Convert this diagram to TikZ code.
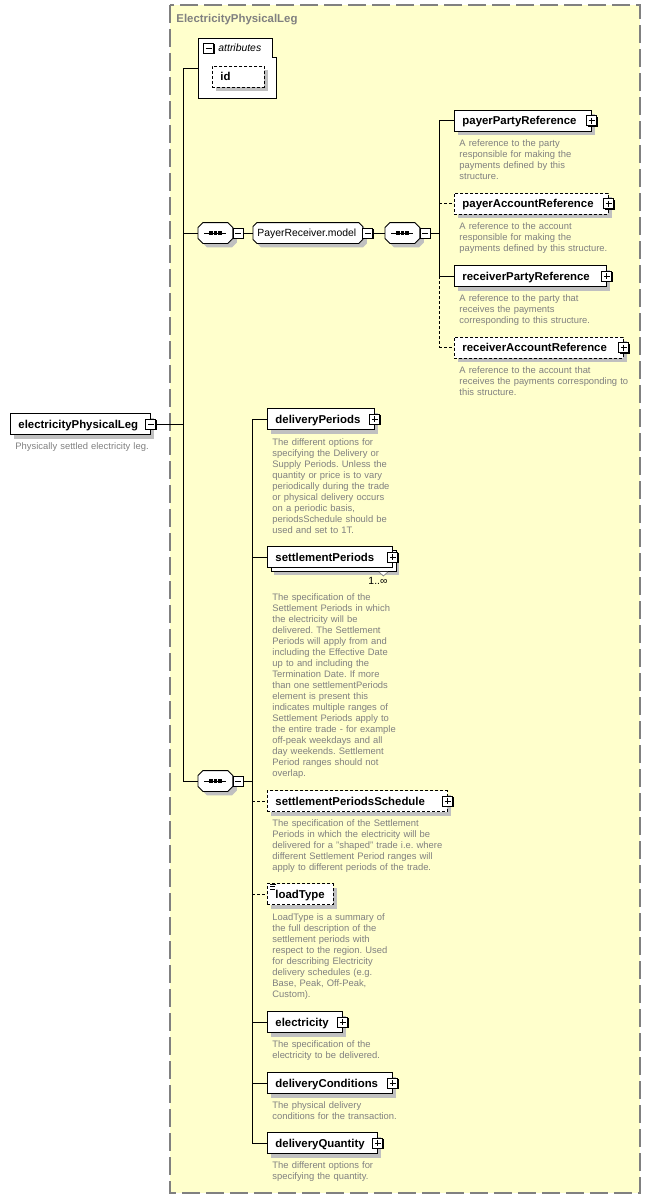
\documentclass[tikz,border=0pt]{standalone}
\usepackage{fontspec}
\setmainfont{Liberation Sans}
\usetikzlibrary{shadows}
\definecolor{groupfill}{RGB}{255,255,204}
\definecolor{docgray}{RGB}{128,128,128}
\definecolor{shadowgray}{RGB}{192,192,192}
\newcommand\namefont{\fontsize{11.4}{13}\bfseries\selectfont}
\newcommand\docfont{\fontsize{9.4}{11}\selectfont\frenchspacing}
\newcommand\smallfont{\fontsize{10.4}{12}\selectfont}
\tikzset{
  boxshadow/.style={drop shadow={fill=shadowgray, opacity=1, shadow xshift=4pt, shadow yshift=-4pt}},
  elembase/.style={draw, fill=white, anchor=west, font=\namefont, align=left,
    inner xsep=8pt, inner ysep=0pt, minimum height=21pt, text height=8.5pt, text depth=0.5pt},
  elem/.style={elembase, boxshadow},
  optelem/.style={elem, dash pattern=on 3pt off 2pt},
  multielem/.style={elembase,
    drop shadow={fill=shadowgray, opacity=1, shadow xshift=7pt, shadow yshift=-7pt},
    general shadow={draw=black, fill=white, shadow xshift=3.5pt, shadow yshift=-3.5pt}},
  doc/.style={anchor=base west, font=\docfont, text=docgray, align=left, text width=200pt, inner sep=0pt},
  seqnode/.style={anchor=west, minimum width=34pt, minimum height=20pt, inner sep=0pt},
  pmbox/.style={draw, fill=white, minimum size=10pt, inner sep=0pt,
    general shadow={fill=black, shadow xshift=1pt, shadow yshift=-1pt}},
  plusbox/.style={pmbox, path picture={
    \draw ([xshift=2pt]path picture bounding box.west) -- ([xshift=-2pt]path picture bounding box.east)
          ([yshift=-2pt]path picture bounding box.north) -- ([yshift=2pt]path picture bounding box.south);}},
  minusbox/.style={pmbox, path picture={
    \draw ([xshift=2pt]path picture bounding box.west) -- ([xshift=-2pt]path picture bounding box.east);}},
  optline/.style={dash pattern=on 3pt off 2pt},
}
% chamfered outline round a node
\newcommand\octo[2]{%
  \draw[fill=white, boxshadow] ([xshift=#2]#1.north west) -- ([xshift=-#2]#1.north east)
    -- ([yshift=-#2]#1.north east) -- ([yshift=#2]#1.south east) -- ([xshift=-#2]#1.south east)
    -- ([xshift=#2]#1.south west) -- ([yshift=#2]#1.south west) -- ([yshift=-#2]#1.north west) -- cycle;}
% sequence mark inside a compositor
\newcommand\seqmark[1]{%
  \draw ([xshift=-11pt]#1.center) -- ([xshift=11pt]#1.center);
  \foreach \dx in {-4.5,0,4.5}
    \fill ([xshift=\dx pt]#1.center) ++(-1.75,-1.75) rectangle ++(3.5,3.5);}
\begin{document}
\begin{tikzpicture}[x=1pt, y=-1pt, line width=0.9pt]
\useasboundingbox (0,0) rectangle (651,1199);

% Complex type group
\draw[draw=docgray, fill=groupfill, line width=1.3pt, dash pattern=on 18pt off 6pt] (170,5) rectangle (640,1193);
\node[anchor=base west, font=\namefont, text=docgray, inner sep=0pt] (title) at (176,23) {ElectricityPhysicalLeg};
\coordinate (busA) at (183,0);
\coordinate (busB) at (439,0);
\coordinate (busC) at (252,0);

% Root element
\node[elem, text width=124pt] (epl) at (10,424) {electricityPhysicalLeg};
\node[minusbox] (epl-m) at (epl.east) {};
\node[doc] (epl-doc) at ([xshift=5pt,yshift=-15pt]epl.south west) {Physically settled electricity leg.};

% Attributes
\node[minimum width=78pt, minimum height=60pt, anchor=north west, inner sep=0pt] (attr) at (198,38) {};
\draw[fill=white] (attr.north west) -- ([xshift=-4pt]attr.north east) -- ([xshift=-4pt,yshift=-19pt]attr.north east)
  -- ([yshift=-19pt]attr.north east) -- (attr.south east) -- (attr.south west) -- cycle;
\node[minusbox] (attr-m) at (208.5,48.5) {};
\node[anchor=base west, font=\smallfont\itshape, inner sep=0pt] (attr-label) at (218,52) {attributes};
\node[optelem, text width=36pt] (id) at (212,76.5) {id};

% PayerReceiver.model
\node[seqnode] (seqA) at (198,233) {};
\octo{seqA}{5pt}
\seqmark{seqA}
\node[minusbox] (seqA-m) at ([xshift=5.5pt]seqA.east) {};
\node[seqnode, minimum width=109pt] (prm) at (253,233) {};
\octo{prm}{4pt}
\node[anchor=base west, font=\smallfont, inner sep=0pt] (prm-label) at ([xshift=4pt,yshift=-3.7pt]prm.west) {PayerReceiver.model};
\node[minusbox] (prm-m) at ([xshift=5pt]prm.east) {};
\node[seqnode] (seqB) at (385,233) {};
\octo{seqB}{5pt}
\seqmark{seqB}
\node[minusbox] (seqB-m) at ([xshift=5.5pt]seqB.east) {};

\node[elem, text width=121pt] (ppr) at (454,120.5) {payerPartyReference};
\node[plusbox] (ppr-p) at (ppr.east) {};
\node[doc] (ppr-doc) at ([xshift=5pt,yshift=-15pt]ppr.south west) {A reference to the party\\responsible for making the\\payments defined by this\\structure.};
\node[optelem, text width=138pt] (par) at (454,203.5) {payerAccountReference};
\node[plusbox] (par-p) at (par.east) {};
\node[doc] (par-doc) at ([xshift=5pt,yshift=-15pt]par.south west) {A reference to the account\\responsible for making the\\payments defined by this structure.};
\node[elem, text width=136pt] (rpr) at (454,276) {receiverPartyReference};
\node[plusbox] (rpr-p) at (rpr.east) {};
\node[doc] (rpr-doc) at ([xshift=5pt,yshift=-15pt]rpr.south west) {A reference to the party that\\receives the payments\\corresponding to this structure.};
\node[optelem, text width=153pt] (rar) at (454,347.5) {receiverAccountReference};
\node[plusbox] (rar-p) at (rar.east) {};
\node[doc] (rar-doc) at ([xshift=5pt,yshift=-15pt]rar.south west) {A reference to the account that\\receives the payments corresponding to\\this structure.};

% Delivery sequence
\node[seqnode] (seqC) at (198,781) {};
\octo{seqC}{5pt}
\seqmark{seqC}
\node[minusbox] (seqC-m) at ([xshift=5.5pt]seqC.east) {};

\node[elem, text width=91pt] (dp) at (267,419) {deliveryPeriods};
\node[plusbox] (dp-p) at (dp.east) {};
\node[doc] (dp-doc) at ([xshift=5pt,yshift=-16pt]dp.south west) {The different options for\\specifying the Delivery or\\Supply Periods. Unless the\\quantity or price is to vary\\periodically during the trade\\or physical delivery occurs\\on a periodic basis,\\periodsSchedule should be\\used and set to 1T.};
\node[multielem, text width=109pt] (sp) at (267,557) {settlementPeriods};
\node[plusbox] (sp-p) at (sp.east) {};
\draw[docgray, line width=0.7pt, fill=white] ([xshift=-14pt,yshift=-4pt]sp.south east) -- ++(4.5,4) -- ++(4.5,-4);
\node[anchor=base east, font=\smallfont, inner sep=0pt] (sp-mult) at ([xshift=-5pt,yshift=-17pt]sp.south east) {1..∞};
\node[doc] (sp-doc) at ([xshift=5pt,yshift=-33pt]sp.south west) {The specification of the\\Settlement Periods in which\\the electricity will be\\delivered. The Settlement\\Periods will apply from and\\including the Effective Date\\up to and including the\\Termination Date. If more\\than one settlementPeriods\\element is present this\\indicates multiple ranges of\\Settlement Periods apply to\\the entire trade - for example\\off-peak weekdays and all\\day weekends. Settlement\\Period ranges should not\\overlap.};
\node[optelem, text width=164pt] (sps) at (267,801) {settlementPeriodsSchedule};
\node[plusbox] (sps-p) at (sps.east) {};
\node[doc] (sps-doc) at ([xshift=5pt,yshift=-15pt]sps.south west) {The specification of the Settlement\\Periods in which the electricity will be\\delivered for a "shaped" trade i.e. where\\different Settlement Period ranges will\\apply to different periods of the trade.};
\node[optelem, text width=50pt] (lt) at (267,894) {loadType};
\draw[line width=0.6pt] ([xshift=3pt,yshift=-1pt]lt.north west) -- ++(6,0)
  ([xshift=3pt,yshift=-3.5pt]lt.north west) -- ++(5,0) ([xshift=3pt,yshift=-6pt]lt.north west) -- ++(5,0);
\node[doc] (lt-doc) at ([xshift=5pt,yshift=-16pt]lt.south west) {LoadType is a summary of\\the full description of the\\settlement periods with\\respect to the region. Used\\for describing Electricity\\delivery schedules (e.g.\\Base, Peak, Off-Peak,\\Custom).};
\node[elem, text width=59pt] (el) at (267,1022) {electricity};
\node[plusbox] (el-p) at (el.east) {};
\node[doc] (el-doc) at ([xshift=5pt,yshift=-15pt]el.south west) {The specification of the\\electricity to be delivered.};
\node[elem, text width=109pt] (dc) at (267,1083) {deliveryConditions};
\node[plusbox] (dc-p) at (dc.east) {};
\node[doc] (dc-doc) at ([xshift=5pt,yshift=-15pt]dc.south west) {The physical delivery\\conditions for the transaction.};
\node[elem, text width=94pt] (dq) at (267,1143) {deliveryQuantity};
\node[plusbox] (dq-p) at (dq.east) {};
\node[doc] (dq-doc) at ([xshift=5pt,yshift=-15pt]dq.south west) {The different options for\\specifying the quantity.};

% Connectors
\draw (epl-m.east) -- (busA |- epl-m.east);
\draw (busA |- attr.west) -- (busA |- seqC.west);
\draw (busA |- attr.west) -- (attr.west);
\draw (busA |- seqA.west) -- (seqA.west);
\draw (busA |- seqC.west) -- (seqC.west);
\draw (seqA-m.east) -- (prm.west);
\draw (prm-m.east) -- (seqB.west);
\draw (seqB-m.east) -- (busB |- seqB-m.east);
\draw (busB |- ppr.west) -- (busB |- rpr.west);
\draw[optline] (busB |- rpr.west) -- (busB |- rar.west);
\draw (busB |- ppr.west) -- (ppr.west);
\draw[optline] (busB |- par.west) -- (par.west);
\draw (busB |- rpr.west) -- (rpr.west);
\draw[optline] (busB |- rar.west) -- (rar.west);
\draw (seqC-m.east) -- (busC |- seqC-m.east);
\draw (busC |- dp.west) -- (busC |- dq.west);
\draw (busC |- dp.west) -- (dp.west);
\draw (busC |- sp.west) -- (sp.west);
\draw[optline] (busC |- sps.west) -- (sps.west);
\draw[optline] (busC |- lt.west) -- (lt.west);
\draw (busC |- el.west) -- (el.west);
\draw (busC |- dc.west) -- (dc.west);
\draw (busC |- dq.west) -- (dq.west);
\end{tikzpicture}
\end{document}
